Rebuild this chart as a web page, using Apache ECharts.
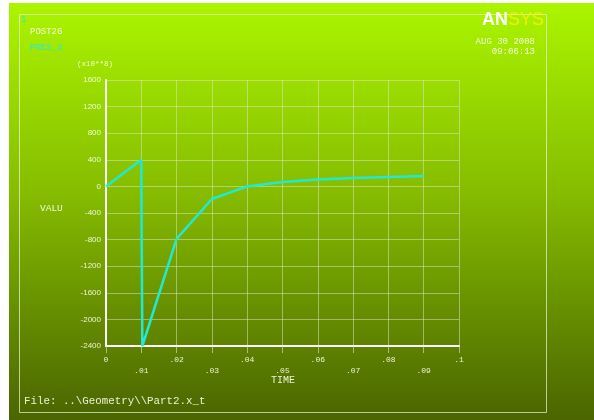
<!DOCTYPE html>
<html>
<head>
<meta charset="utf-8">
<script src="https://cdn.jsdelivr.net/npm/echarts@6/dist/echarts.min.js"></script>
<style>
  html, body { margin: 0; padding: 0; background: #ffffff; }
  #chart { width: 594px; height: 420px; }
</style>
</head>
<body>
<div id="chart"></div>
<script>
// POST26 time history of PRES_3 (values in units of 10**8)
const timeValues = [0, 0.01, 0.01005, 0.0103, 0.02, 0.03, 0.04, 0.05, 0.06, 0.07, 0.08, 0.09];
const presValues = [0, 400, -300, -2400, -790, -190, 0, 65, 104, 126, 141, 156];

// Axis ranges
const timeMin = 0, timeMax = 0.1, timeStep = 0.01;
const valuMin = -2400, valuMax = 1600, valuStep = 400;

const textColor = 'rgba(255,255,235,0.9)';
const mono = '"Liberation Mono", "DejaVu Sans Mono", monospace';

const chart = echarts.init(document.getElementById('chart'), null, { renderer: 'canvas' });

function timeLabel(v) {
  const r = Math.round(v * 100);
  let s = r === 0 ? '0' : (r === 10 ? '.1' : '.' + String(r).padStart(2, '0'));
  // odd ticks sit on a second row
  return r % 2 === 1 ? '\n' + s : s;
}

chart.setOption({
  animation: false,
  graphic: [
    {
      type: 'rect', z: -10, silent: true,
      shape: { x: 9, y: 3, width: 585, height: 417 },
      style: {
        fill: new echarts.graphic.LinearGradient(0, 0, 0, 1, [
          { offset: 0, color: '#abf500' },
          { offset: 0.45, color: '#86bd00' },
          { offset: 1, color: '#4a6500' }
        ])
      }
    },
    {
      type: 'rect', z: -5, silent: true,
      shape: { x: 19.5, y: 14.5, width: 527, height: 398 },
      style: { fill: 'none', stroke: 'rgba(240,245,220,0.7)', lineWidth: 1 }
    },
    { type: 'text', left: 21, top: 15, style: { text: '1', fill: '#2ee8d0', font: '9px ' + mono } },
    { type: 'text', left: 30, top: 27, style: { text: 'POST26', fill: textColor, font: '9px ' + mono } },
    { type: 'text', left: 30, top: 43, style: { text: 'PRES_3', fill: '#2ee8d0', font: '9px ' + mono } },
    { type: 'text', left: 77, top: 60, style: { text: '(x10**8)', fill: textColor, font: '7.5px ' + mono } },
    { type: 'text', left: 40, top: 203, style: { text: 'VALU', fill: textColor, font: '9.5px ' + mono } },
    { type: 'text', left: 271, top: 375, style: { text: 'TIME', fill: textColor, font: '10px ' + mono } },
    { type: 'text', left: 24, top: 396, style: { text: 'File: ..\\Geometry\\\\Part2.x_t', fill: textColor, font: '10.8px ' + mono } },
    {
      type: 'text', left: 482, top: 11,
      style: {
        text: '{a|AN}{b|SYS}',
        rich: {
          a: { fill: '#ffffff', fontSize: 18, fontWeight: 'bold', fontFamily: '"Liberation Sans", sans-serif' },
          b: { fill: '#f0f000', fontSize: 18, fontFamily: '"Liberation Sans", sans-serif' }
        }
      }
    },
    { type: 'text', right: 59, top: 37, style: { text: 'AUG 30 2008', fill: textColor, font: '9px ' + mono } },
    { type: 'text', right: 59, top: 47, style: { text: '09:06:13', fill: textColor, font: '9px ' + mono } }
  ],
  grid: { left: 106, top: 80, right: 135, bottom: 74, containLabel: false },
  xAxis: {
    type: 'value', min: timeMin, max: timeMax, interval: timeStep,
    axisLine: { show: true, onZero: false, lineStyle: { color: '#ffffff', width: 2 } },
    axisTick: { show: true, length: 7, lineStyle: { color: 'rgba(225,230,205,0.6)', width: 1 } },
    splitLine: { show: true, lineStyle: { color: 'rgba(225,230,205,0.5)', width: 1 } },
    axisLabel: {
      color: textColor, fontFamily: mono, fontSize: 8, margin: 8, lineHeight: 11,
      hideOverlap: false, showMinLabel: true, showMaxLabel: true,
      formatter: timeLabel
    }
  },
  yAxis: {
    type: 'value', min: valuMin, max: valuMax, interval: valuStep,
    axisLine: { show: true, onZero: false, lineStyle: { color: '#ffffff', width: 2 } },
    axisTick: { show: false },
    splitLine: { show: true, lineStyle: { color: 'rgba(225,230,205,0.5)', width: 1 } },
    axisLabel: {
      color: textColor, fontFamily: '"Liberation Sans", sans-serif', fontSize: 8, margin: 5,
      showMinLabel: true, showMaxLabel: true,
      formatter: v => String(v)
    }
  },
  series: [{
    type: 'line',
    data: timeValues.map((t, i) => [t, presValues[i]]),
    showSymbol: false,
    symbol: 'none',
    lineStyle: { color: '#22e8d6', width: 2.5 },
    z: 5
  }]
});
</script>
</body>
</html>
